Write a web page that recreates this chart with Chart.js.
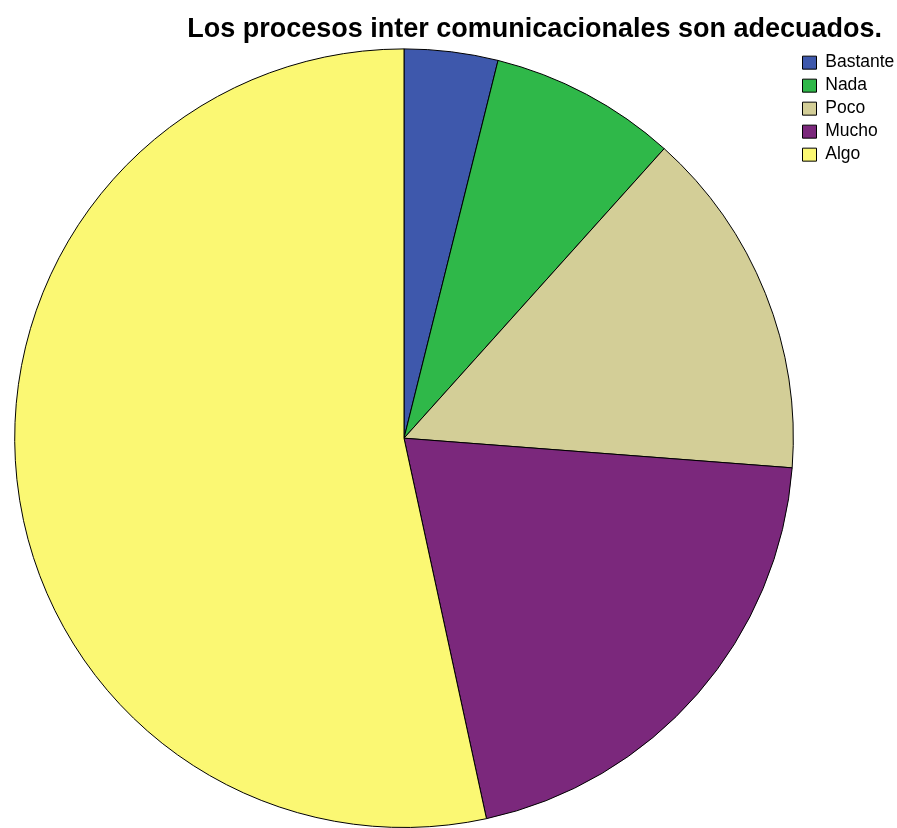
<!DOCTYPE html>
<html lang="es">
<head>
  <meta charset="UTF-8" />
  <title>Procesos inter comunicacionales</title>
  <script src="https://cdn.jsdelivr.net/npm/chart.js"></script>
  <style>
    body {
      margin: 0;
      background: #ffffff;
      overflow: hidden;
    }

    .chart-box {
      width: 897px;
      height: 828px;
    }
  </style>
</head>
<body>

  <div class="chart-box">
    <canvas id="pieChart"></canvas>
  </div>

  <script>
    // respuestas por categoría
    const categorias = ['Bastante', 'Nada', 'Poco', 'Mucho', 'Algo'];
    const frecuencias = [4, 8, 15, 21, 55];
    const colores = ['#3e58ac', '#2fb849', '#d3ce97', '#7b287c', '#fbf873'];
    // dos espacios duros al final para separar el título del borde derecho
    const titulo = 'Los procesos inter comunicacionales son adecuados.\u00a0\u00a0';

    const ctx = document.getElementById('pieChart').getContext('2d');

    new Chart(ctx, {
      type: 'pie',
      data: {
        labels: categorias,
        datasets: [{
          data: frecuencias,
          backgroundColor: colores,
          borderColor: '#000000',
          borderWidth: 1
        }]
      },
      options: {
        responsive: true,
        maintainAspectRatio: false,
        animation: false,
        layout: {
          padding: { left: 11, right: 0, top: 0, bottom: 0 }
        },
        plugins: {
          title: {
            display: true,
            text: titulo,
            align: 'end',
            color: '#000000',
            font: { family: "'Liberation Sans', Arial, sans-serif", size: 27, weight: 'bold' },
            padding: { top: 13, bottom: 3 }
          },
          legend: {
            position: 'right',
            align: 'start',
            fullSize: false,
            maxWidth: 100,
            labels: {
              color: '#000000',
              boxWidth: 14,
              boxHeight: 13,
              padding: 5.5,
              font: { family: "'Liberation Sans', Arial, sans-serif", size: 17.5 }
            }
          },
          tooltip: { enabled: false }
        }
      }
    });
  </script>
</body>
</html>
